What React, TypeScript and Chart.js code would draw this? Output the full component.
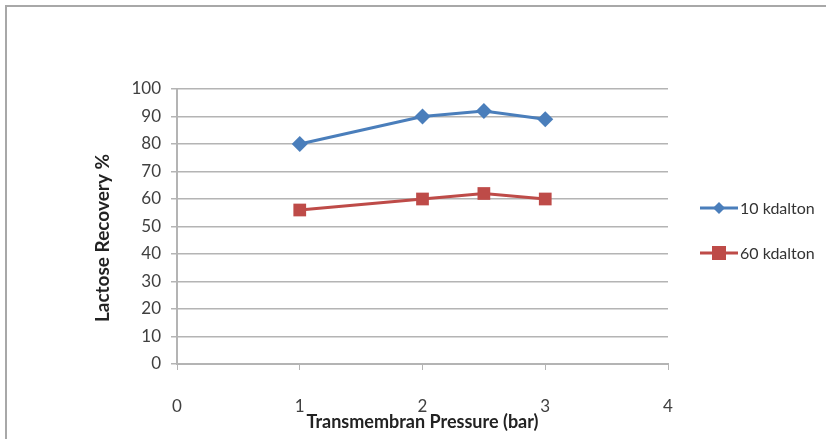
import React, { useEffect, useRef } from 'react';
import { Chart, registerables } from 'chart.js';

Chart.register(...registerables);

const pressures10 = [1, 2, 2.5, 3];
const recovery10 = [80, 90, 92, 89];
const pressures60 = [1, 2, 2.5, 3];
const recovery60 = [56, 60, 62, 60];
const seriesLabels = ['10 kdalton', '60 kdalton'];
const xAxisTitle = 'Transmembran Pressure (bar)';
const yAxisTitle = 'Lactose Recovery %';
const xMin = 0;
const xMax = 4;
const yMin = 0;
const yMax = 100;
const yStep = 10;

const FONT = 'Lato, "Open Sans", sans-serif';
const BLUE = '#4A7EBB';
const RED = '#BE4B48';
const GRID = '#b4b4b4';

const frameAndLegend = {
  id: 'frameAndLegend',
  beforeDraw(chart: any) {
    const ctx = chart.ctx;
    ctx.save();
    ctx.fillStyle = '#ffffff';
    ctx.fillRect(0, 0, chart.width, chart.height);
    ctx.strokeStyle = '#a8a8a8';
    ctx.lineWidth = 2;
    ctx.beginPath();
    ctx.moveTo(6, chart.height);
    ctx.lineTo(6, 6);
    ctx.lineTo(chart.width, 6);
    ctx.stroke();
    ctx.restore();
  },
  afterDraw(chart: any) {
    const ctx = chart.ctx;
    ctx.save();
    // y-axis title
    ctx.translate(103, 238);
    ctx.rotate(-Math.PI / 2);
    ctx.fillStyle = '#222222';
    ctx.font = 'bold 19px ' + FONT;
    ctx.textAlign = 'center';
    ctx.textBaseline = 'middle';
    ctx.fillText(yAxisTitle, 0, 0);
    ctx.restore();

    ctx.save();
    const ys = [208, 253];
    chart.data.datasets.forEach((ds: any, i: number) => {
      const y = ys[i];
      ctx.strokeStyle = ds.borderColor;
      ctx.lineWidth = 3;
      ctx.beginPath();
      ctx.moveTo(700, y);
      ctx.lineTo(738, y);
      ctx.stroke();
      ctx.fillStyle = ds.backgroundColor;
      if (ds.pointStyle === 'rectRot') {
        ctx.beginPath();
        ctx.moveTo(719, y - 6);
        ctx.lineTo(725, y);
        ctx.lineTo(719, y + 6);
        ctx.lineTo(713, y);
        ctx.closePath();
        ctx.fill();
      } else {
        ctx.fillRect(712, y - 7, 14, 14);
      }
      ctx.fillStyle = '#333333';
      ctx.font = '16px ' + FONT;
      ctx.textBaseline = 'middle';
      ctx.textAlign = 'left';
      ctx.fillText(ds.label, 740, y + 1);
    });
    ctx.restore();
  },
};

export default function App() {
  const ref = useRef<HTMLCanvasElement | null>(null);

  useEffect(() => {
    document.body.style.margin = '0';
    const canvas = ref.current;
    if (!canvas) return;
    const chart = new Chart(canvas, {
      type: 'line',
      data: {
        datasets: [
          {
            label: seriesLabels[0],
            data: pressures10.map((x, i) => ({ x, y: recovery10[i] })),
            borderColor: BLUE,
            backgroundColor: BLUE,
            borderWidth: 3,
            pointStyle: 'rectRot',
            pointRadius: 8,
            pointBorderWidth: 0,
            tension: 0,
          },
          {
            label: seriesLabels[1],
            data: pressures60.map((x, i) => ({ x, y: recovery60[i] })),
            borderColor: RED,
            backgroundColor: RED,
            borderWidth: 3,
            pointStyle: 'rect',
            pointRadius: 9,
            pointBorderWidth: 0,
            tension: 0,
          },
        ],
      },
      options: {
        animation: false,
        responsive: false,
        layout: { padding: { left: 0, top: 89, right: 158, bottom: 0 } },
        plugins: {
          legend: { display: false },
          tooltip: { enabled: false },
        },
        scales: {
          x: {
            type: 'linear',
            min: xMin,
            max: xMax,
            afterFit(scale: any) {
              scale.height = 75;
            },
            ticks: {
              stepSize: 1,
              padding: 26,
              color: '#404040',
              font: { family: FONT, size: 17 },
            },
            grid: {
              drawOnChartArea: false,
              drawTicks: true,
              tickLength: 6,
              color: GRID,
              lineWidth: 1,
            },
            border: { display: true, color: GRID, width: 2 },
            title: {
              display: true,
              text: xAxisTitle,
              color: '#222222',
              font: { family: FONT, size: 18, weight: 'bold' },
              padding: { top: 0, bottom: 6 },
            },
          },
          y: {
            min: yMin,
            max: yMax,
            afterFit(scale: any) {
              scale.width = 177;
            },
            ticks: {
              stepSize: yStep,
              padding: 10,
              color: '#404040',
              font: { family: FONT, size: 17 },
            },
            grid: {
              drawTicks: true,
              tickLength: 6,
              color: GRID,
              lineWidth: 1.5,
            },
            border: { display: true, color: GRID, width: 2 },
            title: { display: false, text: yAxisTitle },
          },
        },
      },
      plugins: [frameAndLegend],
    } as any);
    return () => chart.destroy();
  }, []);

  return (
    <div style={{ width: 826, height: 439 }}>
      <canvas ref={ref} width={826} height={439} style={{ display: 'block' }} />
    </div>
  );
}
